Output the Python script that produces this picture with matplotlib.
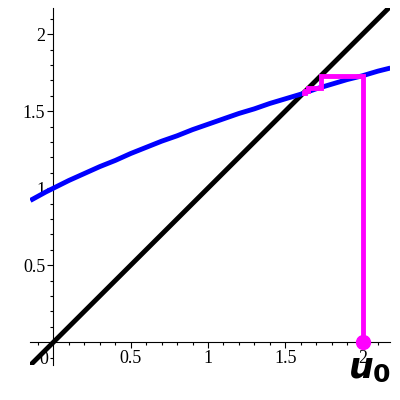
import matplotlib
matplotlib.use("Agg")
from matplotlib import pyplot as plt
from matplotlib.ticker import MultipleLocator

# curve y = f(x)
curve_x = [-0.15, -0.05, 0, 0.1, 0.2, 0.3, 0.4, 0.5, 0.6, 0.7, 0.8, 0.9, 1.0,
           1.1, 1.2, 1.3, 1.4, 1.5, 1.6, 1.7, 1.8, 1.9, 2.0, 2.1, 2.18]
curve_y = [0.92, 0.975, 1.0, 1.05, 1.095, 1.14, 1.18, 1.225, 1.265, 1.305,
           1.34, 1.38, 1.415, 1.45, 1.485, 1.515, 1.55, 1.58, 1.61, 1.645,
           1.675, 1.705, 1.73, 1.76, 1.78]

# diagonal y = x
diag = [-0.15, 2.18]

# iterates of the sequence, starting at u0 = 2
u = [2, 1.73, 1.65, 1.63, 1.62]

x_ticks = [0.5, 1, 1.5, 2]
x_labels = ["0.5", "1", "1.5", "2"]
y_ticks = [0.5, 1, 1.5, 2]
y_labels = ["0.5", "1", "1.5", "2"]

# cobweb path
web_x = [u[0]]
web_y = [0]
for i in range(len(u) - 1):
    web_x += [u[i], u[i + 1]]
    web_y += [u[i + 1], u[i + 1]]

fig = plt.figure(figsize=(4, 4), dpi=100)
ax = fig.add_axes([0.0758, 0.087, 0.9, 0.893])
ax.set_xlim(-0.15, 2.18)
ax.set_ylim(-0.15, 2.17)

ax.plot(curve_x, curve_y, color="#0000ff", linewidth=3.5, solid_capstyle="butt", zorder=3)
ax.plot(diag, diag, color="black", linewidth=3.5, solid_capstyle="butt", zorder=2)
ax.plot(web_x, web_y, color="#ff00ff", linewidth=3.5, solid_joinstyle="miter", zorder=4)
ax.plot([u[0]], [0], "o", color="#ff00ff", markersize=10, zorder=5)

for side in ["top", "right"]:
    ax.spines[side].set_visible(False)
ax.spines["left"].set_position(("data", 0))
ax.spines["bottom"].set_position(("data", 0))
ax.spines["left"].set_linewidth(0.8)
ax.spines["bottom"].set_linewidth(0.8)

ax.set_xticks(x_ticks)
ax.set_xticklabels(x_labels)
ax.set_yticks(y_ticks)
ax.set_yticklabels(y_labels)
ax.xaxis.set_minor_locator(MultipleLocator(0.1))
ax.yaxis.set_minor_locator(MultipleLocator(0.1))
ax.tick_params(which="major", direction="out", length=4, width=0.8,
               labelsize=13, pad=2)
ax.tick_params(which="minor", direction="out", length=2.5, width=0.8)
for lbl in ax.get_xticklabels() + ax.get_yticklabels():
    lbl.set_fontfamily("Liberation Serif")

ax.text(-0.06, -0.06, "0", fontsize=13, family="Liberation Serif",
        ha="center", va="top")

# u0 label under the starting point
ax.text(1.995, -0.23, "u", fontsize=25, fontweight="bold", style="italic",
        family="DejaVu Sans", ha="center", va="baseline", clip_on=False, zorder=6)
ax.text(2.125, -0.26, "0", fontsize=18, fontweight="bold",
        family="DejaVu Sans", ha="center", va="baseline", clip_on=False, zorder=6)

fig.savefig("out.png", dpi=100)
